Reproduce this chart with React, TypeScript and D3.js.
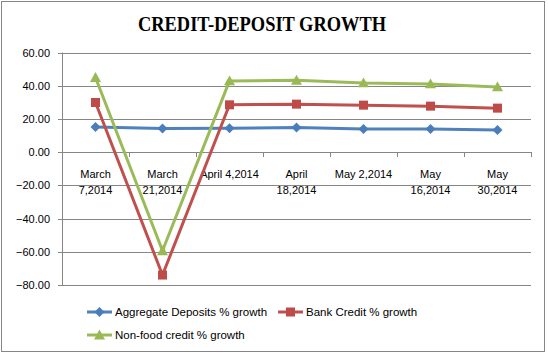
import React from "react";
import * as d3 from "d3";

const categories = ["March 7,2014", "March 21,2014", "April 4,2014", "April 18,2014", "May 2,2014", "May 16,2014", "May 30,2014"];
const categoryLines = [["March", "7,2014"], ["March", "21,2014"], ["April 4,2014"], ["April", "18,2014"], ["May 2,2014"], ["May", "16,2014"], ["May", "30,2014"]];
const aggregateDeposits = [15.2, 14.3, 14.4, 14.8, 14.0, 14.0, 13.4];
const bankCredit = [29.9, -74.0, 28.5, 28.9, 28.3, 27.7, 26.5];
const nonFoodCredit = [44.9, -59.4, 42.9, 43.3, 41.7, 41.1, 39.3];
const yTicks = [60, 40, 20, 0, -20, -40, -60, -80];
const seriesNames = ["Aggregate Deposits % growth", "Bank Credit % growth", "Non-food credit % growth"];

const W = 548, H = 356;
const plot = { left: 62, right: 531, top: 52.5, bottom: 285 };
const lineColors = ["#4F81BD", "#C0504D", "#9BBB59"];
const markColors = ["#4A7EBB", "#BE4B48", "#98B954"];
const font = "'Liberation Sans', Arial, sans-serif";

function Marker({ kind, x, y, color }: { kind: number; x: number; y: number; color: string }) {
  if (kind === 0) {
    const s = 5;
    return <path d={`M${x},${y - s}L${x + s},${y}L${x},${y + s}L${x - s},${y}Z`} fill={color} />;
  }
  if (kind === 1) {
    const s = 4.5;
    return <rect x={x - s} y={y - s} width={2 * s} height={2 * s} fill={color} />;
  }
  const s = 5.5;
  return <path d={`M${x},${y - s}L${x + s},${y + s * 0.8}L${x - s},${y + s * 0.8}Z`} fill={color} />;
}

export default function App() {
  const x = d3.scaleBand<string>().domain(categories).range([plot.left, plot.right]);
  const y = d3.scaleLinear().domain([-80, 60]).range([plot.bottom, plot.top]);
  const cx = (c: string) => (x(c) as number) + x.bandwidth() / 2;
  const series = [aggregateDeposits, bankCredit, nonFoodCredit];
  const line = d3.line<number>().x((_, i) => cx(categories[i])).y((d) => y(d));
  const y0 = y(0);
  const boundaries = categories.map((c) => x(c) as number).concat([plot.right]);

  const legend = [
    { lx: 87, ly: 312 },
    { lx: 278, ly: 312 },
    { lx: 87, ly: 335 },
  ];

  return (
    <svg width={W} height={H} style={{ position: "absolute", left: 0, top: 0, background: "#fff" }}>
      <rect x={1.5} y={1.5} width={543} height={350} fill="#fff" stroke="#868686" strokeWidth={1} />
      <text x={262} y={31} textAnchor="middle" fontFamily="'Liberation Serif', serif" fontWeight="bold" fontSize={20} fill="#000" textLength={248} lengthAdjust="spacingAndGlyphs">
        CREDIT-DEPOSIT GROWTH
      </text>
      {yTicks.map((t) => (
        <g key={t}>
          <line x1={plot.left} x2={plot.right} y1={Math.round(y(t)) + 0.5} y2={Math.round(y(t)) + 0.5} stroke="#868686" />
          <line x1={plot.left - 4} x2={plot.left} y1={Math.round(y(t)) + 0.5} y2={Math.round(y(t)) + 0.5} stroke="#868686" />
          <text x={50} y={y(t) + 4} textAnchor="end" fontFamily={font} fontSize={11} fill="#000">
            {d3.format(".2f")(t)}
          </text>
        </g>
      ))}
      <line x1={plot.left + 0.5} x2={plot.left + 0.5} y1={plot.top} y2={plot.bottom} stroke="#868686" />
      {boundaries.map((b, i) => (
        <line key={i} x1={Math.round(b) + 0.5} x2={Math.round(b) + 0.5} y1={Math.round(y0)} y2={Math.round(y0) + 5} stroke="#868686" />
      ))}
      {categoryLines.map((lines, i) => (
        <text key={i} textAnchor="middle" fontFamily={font} fontSize={11} fill="#000">
          {lines.map((l, j) => (
            <tspan key={j} x={cx(categories[i])} y={178 + j * 16}>
              {l}
            </tspan>
          ))}
        </text>
      ))}
      {series.map((s, k) => (
        <g key={k}>
          <path d={line(s) || ""} fill="none" stroke={lineColors[k]} strokeWidth={3} strokeLinejoin="round" />
          {s.map((v, i) => (
            <Marker key={i} kind={k} x={cx(categories[i])} y={y(v)} color={markColors[k]} />
          ))}
        </g>
      ))}
      {legend.map((p, k) => (
        <g key={k}>
          <line x1={p.lx} x2={p.lx + 25} y1={p.ly} y2={p.ly} stroke={lineColors[k]} strokeWidth={3} />
          <Marker kind={k} x={p.lx + 12.5} y={p.ly} color={markColors[k]} />
          <text x={p.lx + 28} y={p.ly + 4} fontFamily={font} fontSize={11.5} fill="#000">
            {seriesNames[k]}
          </text>
        </g>
      ))}
    </svg>
  );
}
